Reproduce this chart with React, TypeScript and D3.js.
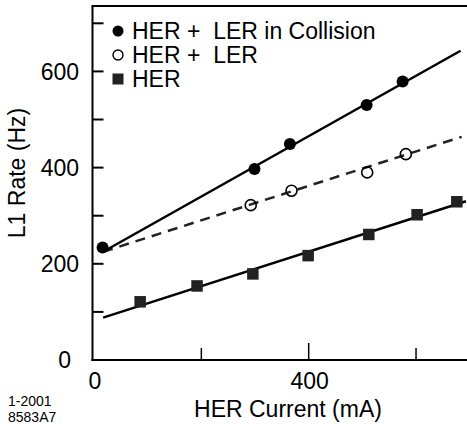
import React from "react";
import * as d3 from "d3";

const W = 467;
const H = 424;

// HER only (filled squares)
const herX = [86, 192, 296, 399, 512, 602, 676];
const herY = [121, 154, 179, 217, 261, 302, 329];
// HER + LER in Collision (filled circles)
const collX = [16, 299, 365, 508, 575];
const collY = [234, 397, 449, 530, 579];
// HER + LER (open circles)
const openX = [292, 368, 509, 581];
const openY = [322, 352, 390, 428];

// fitted lines (endpoints)
const herFitX = [17, 693];
const herFitY = [88, 330];
const collFitX = [17, 683];
const collFitY = [225, 643];
const openFitX = [17, 685];
const openFitY = [225, 464];

const yTicks = [100, 200, 300, 400, 500, 600, 700];
const yTickLabels = [0, 200, 400, 600];
const xTicks = [200, 400, 600];
const xTickLabels = [0, 400];

const legendLabels = ["HER + \u00a0LER in Collision", "HER + \u00a0LER", "HER"];

const FONT = "'Liberation Sans', Arial, Helvetica, sans-serif";

export default function App() {
  const x = d3.scaleLinear().domain([0, 700]).range([94, 469.7]);
  const y = d3.scaleLinear().domain([0, 736]).range([360, 6]);
  const axisX = 92.5;
  const line = d3
    .line<[number, number]>()
    .x((d) => x(d[0]))
    .y((d) => y(d[1]));
  const pts = (xs: number[], ys: number[]) =>
    xs.map((v, i) => [v, ys[i]] as [number, number]);

  const sq = 11.5;
  const fs = 23;

  return (
    <svg
      width={W}
      height={H}
      style={{ position: "absolute", left: 0, top: 0, background: "#fff" }}
      fontFamily={FONT}
    >
      {/* frame: left axis, bottom axis, top line */}
      <line x1={axisX} x2={axisX} y1={y(736)} y2={y(0) + 1} stroke="#000" strokeWidth={2} />
      <line x1={axisX - 1} x2={W} y1={y(0)} y2={y(0)} stroke="#000" strokeWidth={2} />
      <line x1={axisX - 1} x2={W} y1={y(736)} y2={y(736)} stroke="#000" strokeWidth={2} />

      {/* y ticks (inward) */}
      {yTicks.map((t) => (
        <line key={"yt" + t} x1={axisX} x2={axisX + 11} y1={y(t)} y2={y(t)} stroke="#000" strokeWidth={2} />
      ))}
      {yTickLabels.map((t) => (
        <text
          key={"yl" + t}
          x={t === 0 ? 71 : 79}
          y={y(t)}
          dy="0.36em"
          textAnchor="end"
          fontSize={fs}
          fill="#000"
        >
          {t}
        </text>
      ))}

      {/* x ticks (inward) */}
      {xTicks.map((t) => (
        <line
          key={"xt" + t}
          x1={x(t)}
          x2={x(t)}
          y1={y(0)}
          y2={y(0) - (xTickLabels.includes(t) ? 17 : 12)}
          stroke="#000"
          strokeWidth={1.5}
        />
      ))}
      {xTickLabels.map((t) => (
        <text key={"xl" + t} x={x(t) + 1} y={389} textAnchor="middle" fontSize={fs} fill="#000">
          {t}
        </text>
      ))}

      {/* axis titles */}
      <text x={288} y={417} textAnchor="middle" fontSize={fs} fill="#000">
        HER Current (mA)
      </text>
      <text transform="translate(25,173) rotate(-90)" textAnchor="middle" fontSize={fs} fill="#000">
        L1 Rate (Hz)
      </text>

      {/* figure ids */}
      <text x={8} y={406} fontSize={14} fill="#000">1-2001</text>
      <text x={8} y={422} fontSize={14} fill="#000">8583A7</text>

      {/* fit lines */}
      <path d={line(pts(herFitX, herFitY)) || ""} fill="none" stroke="#000" strokeWidth={2.5} />
      <path d={line(pts(openFitX, openFitY)) || ""} fill="none" stroke="#222" strokeWidth={2.5} strokeDasharray="10,7" />
      <path d={line(pts(collFitX, collFitY)) || ""} fill="none" stroke="#000" strokeWidth={2.5} />

      {/* markers */}
      {pts(herX, herY).map((p, i) => (
        <rect key={"s" + i} x={x(p[0]) - sq / 2} y={y(p[1]) - sq / 2} width={sq} height={sq} fill="#222" />
      ))}
      {pts(openX, openY).map((p, i) => (
        <circle key={"o" + i} cx={x(p[0])} cy={y(p[1])} r={5.5} fill="none" stroke="#000" strokeWidth={1.6} />
      ))}
      {pts(collX, collY).map((p, i) => (
        <circle key={"c" + i} cx={x(p[0])} cy={y(p[1])} r={6} fill="#000" />
      ))}

      {/* legend */}
      <circle cx={118} cy={31} r={5.5} fill="#000" />
      <circle cx={118} cy={55} r={5} fill="none" stroke="#000" strokeWidth={1.4} />
      <rect x={118 - 5.5} y={79 - 5.5} width={11} height={11} fill="#222" />
      {legendLabels.map((l, i) => (
        <text key={"lg" + i} x={132} y={39 + i * 24} fontSize={fs} fill="#000">
          {l}
        </text>
      ))}
    </svg>
  );
}
